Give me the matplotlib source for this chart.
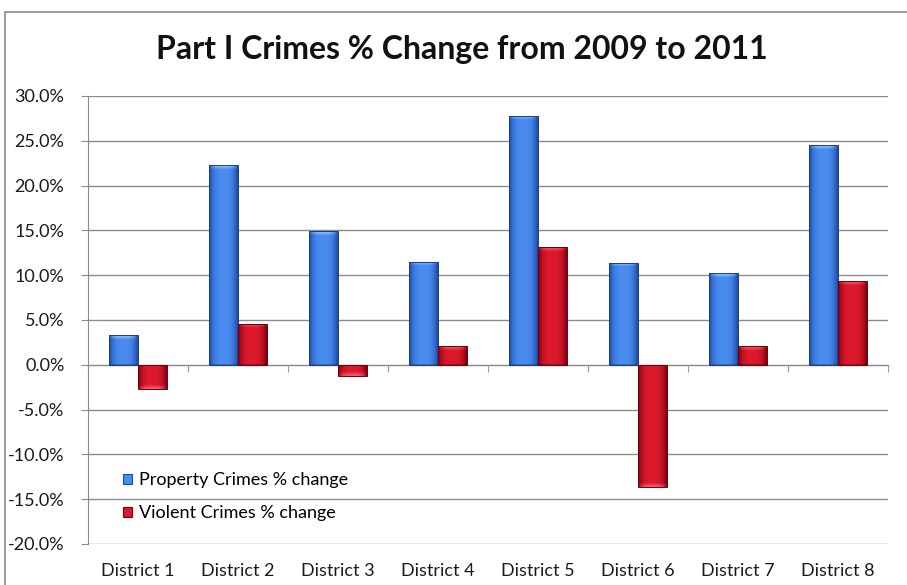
import numpy as np
import matplotlib
matplotlib.use("Agg")
import matplotlib.pyplot as plt
from matplotlib.patches import Rectangle, Patch
from matplotlib.colors import to_rgb
from matplotlib.ticker import FuncFormatter, MultipleLocator

plt.rcParams['font.family'] = ['Lato', 'DejaVu Sans']

districts = ["District 1", "District 2", "District 3", "District 4",
             "District 5", "District 6", "District 7", "District 8"]
property_change = [3.3, 22.3, 14.9, 11.5, 27.8, 11.4, 10.2, 24.5]
violent_change = [-2.7, 4.6, -1.2, 2.1, 13.1, -13.6, 2.1, 9.3]
series_names = ["Property Crimes % change", "Violent Crimes % change"]

W, H = 907, 585
fig = plt.figure(figsize=(W / 100, H / 100), dpi=100)
fig.patch.set_facecolor("white")

# chart frame
fig.patches.append(Rectangle((5 / W, -0.1), 1.2, 0.1 + (H - 12) / H,
                             transform=fig.transFigure, fill=False,
                             edgecolor="#8a8a8a", lw=1.2))

ax = fig.add_axes([88 / W, 41 / H, 800 / W, 448 / H])
ax.set_xlim(-0.5, len(districts) - 0.5)
ax.set_ylim(-20, 30)
ax.yaxis.set_major_locator(MultipleLocator(5))
ax.yaxis.set_major_formatter(FuncFormatter(lambda v, p: f"{v:.1f}%"))
ax.grid(axis="y", color="#8c8c8c", lw=1.0)
ax.set_axisbelow(True)
for s in ["top", "right", "bottom"]:
    ax.spines[s].set_visible(False)
ax.spines["left"].set_color("#8c8c8c")
ax.tick_params(axis="y", length=5, color="#8c8c8c", labelsize=13, pad=12,
               labelcolor="#1a1a1a")
ax.set_xticks(range(len(districts)))
ax.set_xticklabels(districts)
ax.tick_params(axis="x", length=0, labelsize=13, pad=14, labelcolor="#1a1a1a")

# zero line with category-boundary ticks
zero = ax.secondary_xaxis(20 / 50)
zero.set_xticks(np.arange(-0.5, len(districts) + 0.5, 1.0))
zero.set_xticklabels([])
zero.tick_params(length=5, color="#9a9a9a", direction="out")
zero.spines["bottom"].set_color("#8c8c8c")

px_per_unit = 448 / 50.0


def bevel_image(value, edge, mid, light):
    """Build a shaded bar face: darker sides, bright centre, light cap."""
    ncols = 40
    nrows = max(int(abs(value) * px_per_unit), 2)
    xs = np.linspace(-1, 1, ncols)
    prof = np.clip(1 - np.abs(xs) ** 3, 0, 1)
    e, m, l = np.array(to_rgb(edge)), np.array(to_rgb(mid)), np.array(to_rgb(light))
    row = e[None, :] * (1 - prof[:, None]) + m[None, :] * prof[:, None]
    img = np.repeat(row[None, :, :], nrows, axis=0)
    cap = min(4, nrows // 2)
    for k in range(cap):
        a = 0.75 * (1 - k / cap)
        r = k if value >= 0 else nrows - 1 - k
        img[r] = img[r] * (1 - a * prof[:, None]) + l[None, :] * a * prof[:, None]
    end = nrows - 1 if value >= 0 else 0
    img[end] = img[end] * 0.75
    return img


width = 0.29
styles = [("#1c4aa6", "#4a8cf0", "#a8e4ff"),
          ("#7e0010", "#dc1a2c", "#ff7080")]
outline = ["#1a3f8a", "#6a0010"]
x = np.arange(len(districts))
for i, (vals, sty) in enumerate(zip([property_change, violent_change], styles)):
    offset = (-0.5 + i) * width
    bars = ax.bar(x + offset, vals, width, color=sty[1], zorder=2, lw=0)
    for b, v in zip(bars, vals):
        img = bevel_image(v, *sty)
        x0 = b.get_x()
        y0, y1 = (0, v) if v >= 0 else (v, 0)
        im = ax.imshow(img, extent=(x0, x0 + width, y0, y1), origin="upper",
                       aspect="auto", zorder=3, interpolation="bilinear")
        im.set_clip_path(b)
        ax.add_patch(Rectangle((x0, y0), width, y1 - y0, fill=False,
                               edgecolor=outline[i], lw=0.7, zorder=4))

ax.set_xlim(-0.5, len(districts) - 0.5)
ax.set_ylim(-20, 30)

handles = [Patch(facecolor=styles[0][1], edgecolor=styles[0][0], lw=0.8),
           Patch(facecolor=styles[1][1], edgecolor=styles[1][0], lw=0.8)]
ax.legend(handles, series_names, loc="upper left",
          bbox_to_anchor=(28 / 800, (544 - 465) / 448), frameon=False,
          fontsize=13, handlelength=0.5, handleheight=0.5,
          handletextpad=0.35, labelspacing=0.95, borderaxespad=0)

fig.text(462 / W, 1 - 49 / H, "Part I Crimes % Change from 2009 to 2011",
         ha="center", va="center", fontsize=23, fontweight="bold",
         color="#111111")

fig.savefig("out.png", dpi=100)
